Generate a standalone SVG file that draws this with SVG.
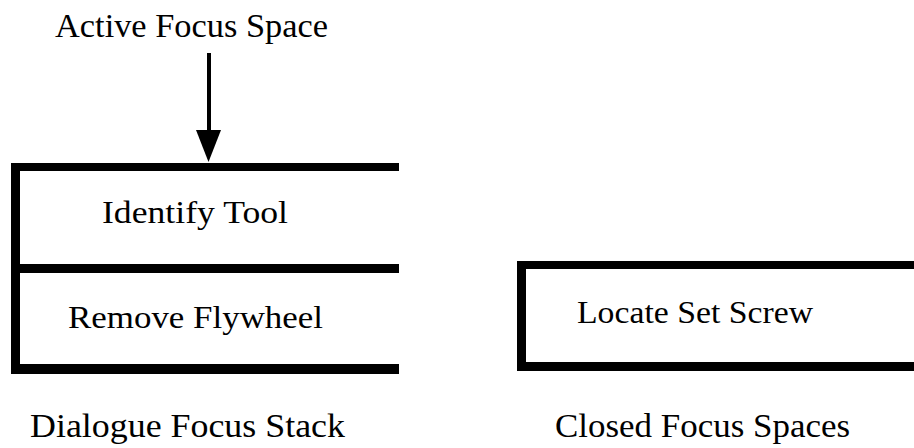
<svg xmlns="http://www.w3.org/2000/svg" width="914" height="448" viewBox="0 0 914 448">
  <style>
    text { font-family: "Liberation Serif", "DejaVu Serif", serif; fill: #000; }
    .lbl { font-size: 32px; }
    .cap { font-size: 34px; }
    .bar { fill: #000; }
  </style>
  <rect width="914" height="448" fill="#fff"/>

  <!-- pointer label -->
  <g id="active-label">
    <text x="55" y="37" textLength="273" lengthAdjust="spacingAndGlyphs" class="cap">Active Focus Space</text>
  </g>

  <!-- connectors -->
  <g id="connectors">
    <line x1="209" y1="53" x2="209" y2="130" stroke="#000" stroke-width="4"/>
    <path d="M196,130 L221,130 L208.5,162 Z" fill="#000"/>
  </g>

  <!-- dialogue focus stack: top entry -->
  <g id="identify-tool">
    <rect class="bar" x="11" y="163" width="388" height="8"/>
    <rect class="bar" x="11" y="163" width="9" height="110"/>
    <text x="102" y="223" textLength="186" lengthAdjust="spacingAndGlyphs" class="lbl">Identify Tool</text>
  </g>

  <!-- dialogue focus stack: lower entry -->
  <g id="remove-flywheel">
    <rect class="bar" x="11" y="264" width="388" height="9"/>
    <rect class="bar" x="11" y="264" width="9" height="110"/>
    <rect class="bar" x="11" y="364" width="388" height="10"/>
    <text x="68" y="328" textLength="255" lengthAdjust="spacingAndGlyphs" class="lbl">Remove Flywheel</text>
  </g>

  <!-- closed focus space -->
  <g id="locate-set-screw">
    <rect class="bar" x="517" y="261" width="397" height="8"/>
    <rect class="bar" x="517" y="261" width="9" height="110"/>
    <rect class="bar" x="517" y="362" width="397" height="9"/>
    <text x="577" y="323" textLength="236" lengthAdjust="spacingAndGlyphs" class="lbl">Locate Set Screw</text>
  </g>

  <!-- captions -->
  <g id="stack-caption">
    <text x="30" y="437" textLength="315" lengthAdjust="spacingAndGlyphs" class="cap">Dialogue Focus Stack</text>
  </g>
  <g id="closed-caption">
    <text x="555" y="437" textLength="295" lengthAdjust="spacingAndGlyphs" class="cap">Closed Focus Spaces</text>
  </g>
</svg>
